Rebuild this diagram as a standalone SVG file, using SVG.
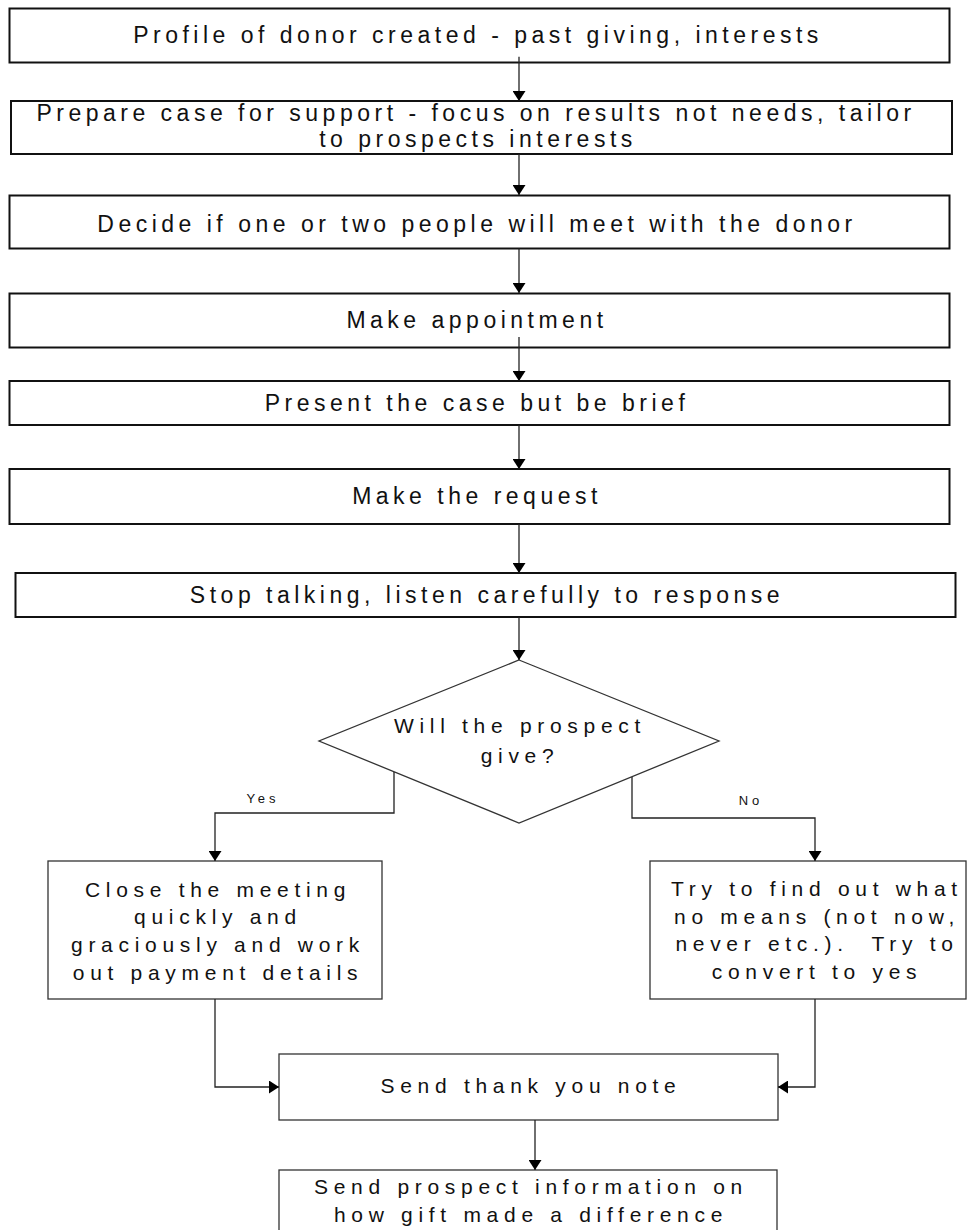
<svg xmlns="http://www.w3.org/2000/svg" width="973" height="1230" viewBox="0 0 973 1230">
<style>
.bx{fill:#fff;stroke:#111;stroke-width:2}
.bl{fill:#fff;stroke:#333;stroke-width:1.3}
.t1{font-family:"Liberation Sans",Arial,sans-serif;font-size:23px;letter-spacing:4.5px;fill:#111;text-anchor:middle}
.t2{font-family:"Liberation Sans",Arial,sans-serif;font-size:21px;letter-spacing:5.7px;fill:#111;text-anchor:middle;white-space:pre}
.t3{font-family:"Liberation Sans",Arial,sans-serif;font-size:13px;letter-spacing:4px;fill:#111;text-anchor:middle}
.cn{fill:none;stroke:#222;stroke-width:1.3}
</style>
<defs>
<marker id="ah" viewBox="0 0 10 13" markerWidth="10" markerHeight="13" refX="10" refY="6.5" orient="auto" markerUnits="userSpaceOnUse">
<path d="M0,0 L10,6.5 L0,13 z" fill="#000"/>
</marker>
</defs>
<rect width="973" height="1230" fill="#fff"/>
<g id="n1"><rect class="bx" x="9.5" y="8.5" width="940" height="54"/><text class="t1" x="478" y="43.3">Profile of donor created - past giving, interests</text></g>
<g id="n2"><rect class="bx" x="11" y="101" width="941" height="53"/><text class="t1" x="476" y="120.7">Prepare case for support - focus on results not needs, tailor</text><text class="t1" x="478" y="146.7">to prospects interests</text></g>
<g id="n3"><rect class="bx" x="9.5" y="195.5" width="940" height="53"/><text class="t1" x="477" y="231.7">Decide if one or two people will meet with the donor</text></g>
<g id="n4"><rect class="bx" x="9.5" y="293.5" width="940" height="54"/><text class="t1" x="477" y="328">Make appointment</text></g>
<g id="n5"><rect class="bx" x="9.5" y="381" width="940" height="44"/><text class="t1" x="477" y="410.7">Present the case but be brief</text></g>
<g id="n6"><rect class="bx" x="9.5" y="469" width="940" height="55"/><text class="t1" x="477" y="504">Make the request</text></g>
<g id="n7"><rect class="bx" x="15.5" y="573" width="940" height="44"/><text class="t1" x="487" y="603">Stop talking, listen carefully to response</text></g>
<g id="n8"><polygon class="bl" points="519,660 719,741 519,823 319,741"/><text class="t2" x="520" y="733">Will the prospect</text><text class="t2" x="520" y="762.7">give?</text></g>
<g id="n9"><rect class="bl" x="48" y="861" width="334" height="138"/><text class="t2" x="218" y="896.7">Close the meeting</text><text class="t2" x="218" y="924.3">quickly and</text><text class="t2" x="218" y="952">graciously and work</text><text class="t2" x="218" y="980">out payment details</text></g>
<g id="n10"><rect class="bl" x="650" y="861" width="316" height="138"/><text class="t2" x="817" y="896">Try to find out what</text><text class="t2" x="817" y="923.5">no means (not now,</text><text class="t2" x="817" y="951" xml:space="preserve">never etc.).  Try to</text><text class="t2" x="817" y="978.5">convert to yes</text></g>
<g id="n11"><rect class="bl" x="279" y="1054" width="499" height="66"/><text class="t2" x="531" y="1093">Send thank you note</text></g>
<g id="n12"><rect class="bl" x="279" y="1170" width="498" height="80"/><text class="t2" x="531" y="1194">Send prospect information on</text><text class="t2" x="531" y="1221.7">how gift made a difference</text></g>
<g id="connectors">
<path class="cn" d="M519,56.7 V101" marker-end="url(#ah)"/>
<path class="cn" d="M519,154 V195" marker-end="url(#ah)"/>
<path class="cn" d="M519,248.5 V293" marker-end="url(#ah)"/>
<path class="cn" d="M519,337 V381" marker-end="url(#ah)"/>
<path class="cn" d="M519,425 V469" marker-end="url(#ah)"/>
<path class="cn" d="M519,524 V573" marker-end="url(#ah)"/>
<path class="cn" d="M519,617 V660" marker-end="url(#ah)"/>
<path class="cn" d="M394,772 V813 H215 V861" marker-end="url(#ah)"/>
<path class="cn" d="M632,777 V818 H815 V861" marker-end="url(#ah)"/>
<path class="cn" d="M215,999 V1087 H279" marker-end="url(#ah)"/>
<path class="cn" d="M815,999 V1087 H778" marker-end="url(#ah)"/>
<path class="cn" d="M535,1120 V1170" marker-end="url(#ah)"/>
<text class="t3" x="263" y="803.3">Yes</text>
<text class="t3" x="751" y="805">No</text>
</g>
</svg>
